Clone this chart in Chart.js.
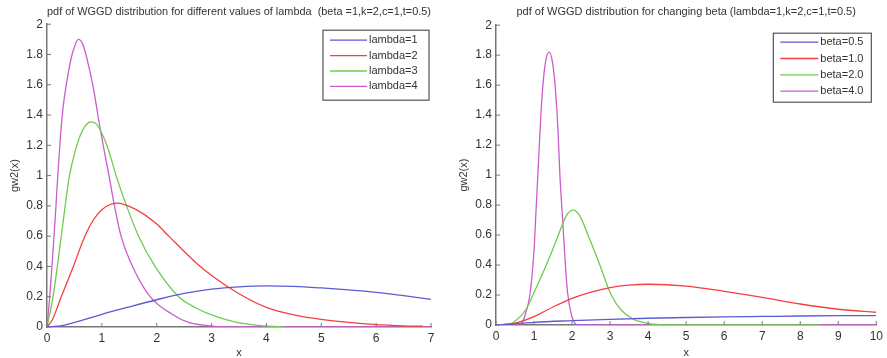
<!DOCTYPE html>
<html>
<head>
<meta charset="utf-8">
<script src="https://cdn.jsdelivr.net/npm/chart.js@4.4.1/dist/chart.umd.min.js"></script>
<style>
  html, body { margin: 0; padding: 0; background: #fff; }
  #wrap { position: relative; width: 887px; height: 358px; }
  .box { position: absolute; top: 0; height: 358px; }
</style>
</head>
<body>
<div id="wrap">
  <div class="box" style="left:0; width:443px;"><canvas id="chartLambda"></canvas></div>
  <div class="box" style="left:443px; width:444px;"><canvas id="chartBeta"></canvas></div>
</div>
<script>
// tick values
const yTicks = [0, 0.2, 0.4, 0.6, 0.8, 1, 1.2, 1.4, 1.6, 1.8, 2];
const xTicksLambda = [0, 1, 2, 3, 4, 5, 6, 7];
const xTicksBeta = [0, 1, 2, 3, 4, 5, 6, 7, 8, 9, 10];

// left chart: different lambda
const lambdaLabels = ['lambda=1', 'lambda=2', 'lambda=3', 'lambda=4'];
const lam1X = [0, 0.2, 0.5, 1, 1.5, 2, 2.5, 3, 3.5, 4, 4.5, 5, 5.5, 6, 6.5, 7];
const lam1Y = [0, 0.005, 0.03, 0.084, 0.133, 0.18, 0.222, 0.25, 0.265, 0.271, 0.268, 0.258, 0.245, 0.229, 0.207, 0.182];
const lam2X = [0, 0.1, 0.26, 0.48, 0.69, 0.85, 1.0, 1.27, 1.6, 2.0, 2.22, 2.7, 3.0, 3.5, 4.0, 4.5, 5.0, 5.5, 6.0, 6.5, 6.85];
const lam2Y = [0, 0.05, 0.2, 0.4, 0.6, 0.71, 0.775, 0.818, 0.78, 0.68, 0.6, 0.43, 0.34, 0.22, 0.13, 0.08, 0.05, 0.03, 0.016, 0.008, 0.005];
const lam3X = [0, 0.11, 0.26, 0.41, 0.52, 0.6, 0.7, 0.8, 0.9, 1.0, 1.12, 1.26, 1.45, 1.67, 1.97, 2.4, 2.7, 3.0, 3.4, 3.8, 4.3];
const lam3Y = [0, 0.2, 0.6, 1.0, 1.17, 1.26, 1.33, 1.355, 1.34, 1.28, 1.17, 1.0, 0.8, 0.6, 0.4, 0.2, 0.129, 0.08, 0.035, 0.012, 0];
const lam4X = [0, 0.05, 0.1, 0.15, 0.2, 0.25, 0.3, 0.38, 0.45, 0.5, 0.57, 0.65, 0.75, 0.85, 0.95, 1.04, 1.13, 1.23, 1.35, 1.56, 1.88, 2.28, 2.58, 2.9, 3.3, 7];
const lam4Y = [0, 0.2, 0.45, 0.72, 1.02, 1.28, 1.47, 1.66, 1.79, 1.85, 1.9, 1.87, 1.74, 1.57, 1.35, 1.17, 1.0, 0.8, 0.6, 0.4, 0.2, 0.084, 0.03, 0.01, 0, 0];

// right chart: changing beta
const betaLabels = ['beta=0.5', 'beta=1.0', 'beta=2.0', 'beta=4.0'];
const beta1X = [0, 0.5, 1, 2, 3, 4, 5, 6, 7, 8, 9, 10];
const beta1Y = [0, 0.008, 0.018, 0.029, 0.038, 0.045, 0.05, 0.054, 0.057, 0.06, 0.062, 0.063];
const beta2X = [0, 0.5, 1, 1.5, 2, 2.5, 3, 3.5, 4, 5, 6, 7, 8, 9, 10];
const beta2Y = [0, 0.012, 0.056, 0.12, 0.178, 0.22, 0.25, 0.266, 0.272, 0.26, 0.225, 0.185, 0.14, 0.105, 0.085];
const beta3X = [0, 0.3, 0.52, 0.78, 0.97, 1.15, 1.34, 1.5, 1.64, 1.85, 2.03, 2.2, 2.42, 2.73, 3.03, 3.29, 3.6, 4.0, 4.5, 8.5];
const beta3Y = [0, 0.002, 0.03, 0.1, 0.2, 0.3, 0.41, 0.51, 0.6, 0.73, 0.767, 0.73, 0.6, 0.4, 0.2, 0.1, 0.04, 0.01, 0, 0];
const beta4X = [0, 0.6, 0.7, 0.78, 0.89, 1.0, 1.06, 1.12, 1.18, 1.24, 1.32, 1.4, 1.48, 1.56, 1.63, 1.68, 1.74, 1.82, 1.88, 1.99, 2.08, 2.16, 10];
const beta4Y = [0, 0, 0.02, 0.08, 0.2, 0.5, 0.8, 1.1, 1.4, 1.62, 1.78, 1.82, 1.76, 1.58, 1.3, 1.0, 0.75, 0.42, 0.22, 0.06, 0.01, 0, 0];

const colors = ['#5b5bd6', '#f2403f', '#6fcb4f', '#cc5ccc'];
const axisColor = '#777';
const textColor = '#333';
const fontFamily = '"Liberation Sans", Arial, sans-serif';

function pts(xs, ys) {
  return xs.map((x, i) => ({ x: x, y: ys[i] }));
}

function makeSets(labels, xsList, ysList) {
  return labels.map((lab, i) => ({
    label: lab,
    data: pts(xsList[i], ysList[i]),
    borderColor: colors[i],
    borderWidth: 1.3,
    pointRadius: 0,
    fill: false,
    cubicInterpolationMode: 'monotone'
  }));
}

// inward tick marks like matlab
const innerTicks = {
  id: 'innerTicks',
  afterDatasetsDraw(chart) {
    const ctx = chart.ctx;
    const xs = chart.scales.x, ys = chart.scales.y;
    const area = chart.chartArea;
    ctx.save();
    ctx.strokeStyle = axisColor;
    ctx.lineWidth = 1;
    ctx.beginPath();
    xs.ticks.forEach(t => {
      const px = xs.getPixelForValue(t.value);
      ctx.moveTo(px, area.bottom);
      ctx.lineTo(px, area.bottom - 4);
    });
    ys.ticks.forEach(t => {
      const py = ys.getPixelForValue(t.value);
      ctx.moveTo(area.left, py);
      ctx.lineTo(area.left + 4, py);
    });
    ctx.stroke();
    ctx.restore();
  }
};

// boxed legend inside the plot, top right
const boxLegend = {
  id: 'boxLegend',
  afterDraw(chart, args, opts) {
    const ctx = chart.ctx;
    const area = chart.chartArea;
    const right = area.right - opts.offRight;
    const left = right - opts.width;
    const top = area.top + opts.offTop;
    ctx.save();
    ctx.fillStyle = '#fff';
    ctx.fillRect(left, top, opts.width, opts.height);
    ctx.strokeStyle = '#555';
    ctx.lineWidth = 1.2;
    ctx.strokeRect(left, top, opts.width, opts.height);
    ctx.font = '11px ' + fontFamily;
    ctx.textBaseline = 'middle';
    ctx.textAlign = 'left';
    chart.data.datasets.forEach((ds, i) => {
      const y = top + opts.first + i * opts.step;
      ctx.strokeStyle = ds.borderColor;
      ctx.lineWidth = 1.3;
      ctx.beginPath();
      ctx.moveTo(left + 7, y);
      ctx.lineTo(left + opts.lineEnd, y);
      ctx.stroke();
      ctx.fillStyle = textColor;
      ctx.fillText(ds.label, left + opts.lineEnd + 2, y);
    });
    ctx.restore();
  }
};

function makeChart(id, title, sets, xMax, xTicks, cfg) {
  return new Chart(document.getElementById(id), {
    type: 'line',
    data: { datasets: sets },
    plugins: [innerTicks, boxLegend],
    options: {
      responsive: true,
      maintainAspectRatio: false,
      animation: false,
      layout: { padding: { left: 0, right: cfg.padRight, top: 0, bottom: 0 } },
      plugins: {
        legend: { display: false },
        tooltip: { enabled: false },
        title: {
          display: true,
          text: title,
          fullSize: false,
          color: textColor,
          font: { family: fontFamily, size: 11, weight: 'normal', lineHeight: 1.2 },
          padding: { top: cfg.titleTop, bottom: cfg.titleBottom }
        },
        boxLegend: cfg.legend
      },
      scales: {
        x: {
          type: 'linear',
          min: 0,
          max: xMax,
          afterBuildTicks: s => { s.ticks = xTicks.map(v => ({ value: v })); },
          afterFit: s => { s.height = cfg.xHeight; },
          grid: { display: false, drawTicks: false },
          border: { display: true, color: axisColor, width: 1.5 },
          ticks: { color: textColor, padding: 4, maxRotation: 0, font: { family: fontFamily, size: 12 },
                   callback: v => String(v) },
          title: { display: true, text: 'x', color: textColor, padding: { top: 0, bottom: 0 },
                   font: { family: fontFamily, size: 11, lineHeight: 1 } }
        },
        y: {
          min: 0,
          max: 2,
          afterBuildTicks: s => { s.ticks = yTicks.map(v => ({ value: v })); },
          afterFit: s => { s.width = cfg.yWidth; },
          grid: { display: false, drawTicks: false },
          border: { display: true, color: axisColor, width: 1.5 },
          ticks: { color: textColor, padding: 4, font: { family: fontFamily, size: 12 },
                   callback: v => String(v) },
          title: { display: true, text: 'gw2(x)', color: textColor, padding: { top: cfg.yTitlePad, bottom: 0 },
                   font: { family: fontFamily, size: 11, lineHeight: 1 } }
        }
      }
    }
  });
}

makeChart('chartLambda',
  'pdf of WGGD distribution for different values of lambda  (beta =1,k=2,c=1,t=0.5)',
  makeSets(lambdaLabels, [lam1X, lam2X, lam3X, lam4X], [lam1Y, lam2Y, lam3Y, lam4Y]),
  7, xTicksLambda,
  { padRight: 12, titleTop: 5, titleBottom: 6, xHeight: 31, yWidth: 47, yTitlePad: 9,
    legend: { offRight: 2, offTop: 6, width: 106, height: 70, first: 10, step: 15.4, lineEnd: 44 } });

makeChart('chartBeta',
  'pdf of WGGD distribution for changing beta (lambda=1,k=2,c=1,t=0.5)',
  makeSets(betaLabels, [beta1X, beta2X, beta3X, beta4X], [beta1Y, beta2Y, beta3Y, beta4Y]),
  10, xTicksBeta,
  { padRight: 6, titleTop: 5, titleBottom: 7, xHeight: 33, yWidth: 53, yTitlePad: 15,
    legend: { offRight: 5, offTop: 8, width: 98, height: 69, first: 9, step: 16.3, lineEnd: 45 } });
</script>
</body>
</html>
